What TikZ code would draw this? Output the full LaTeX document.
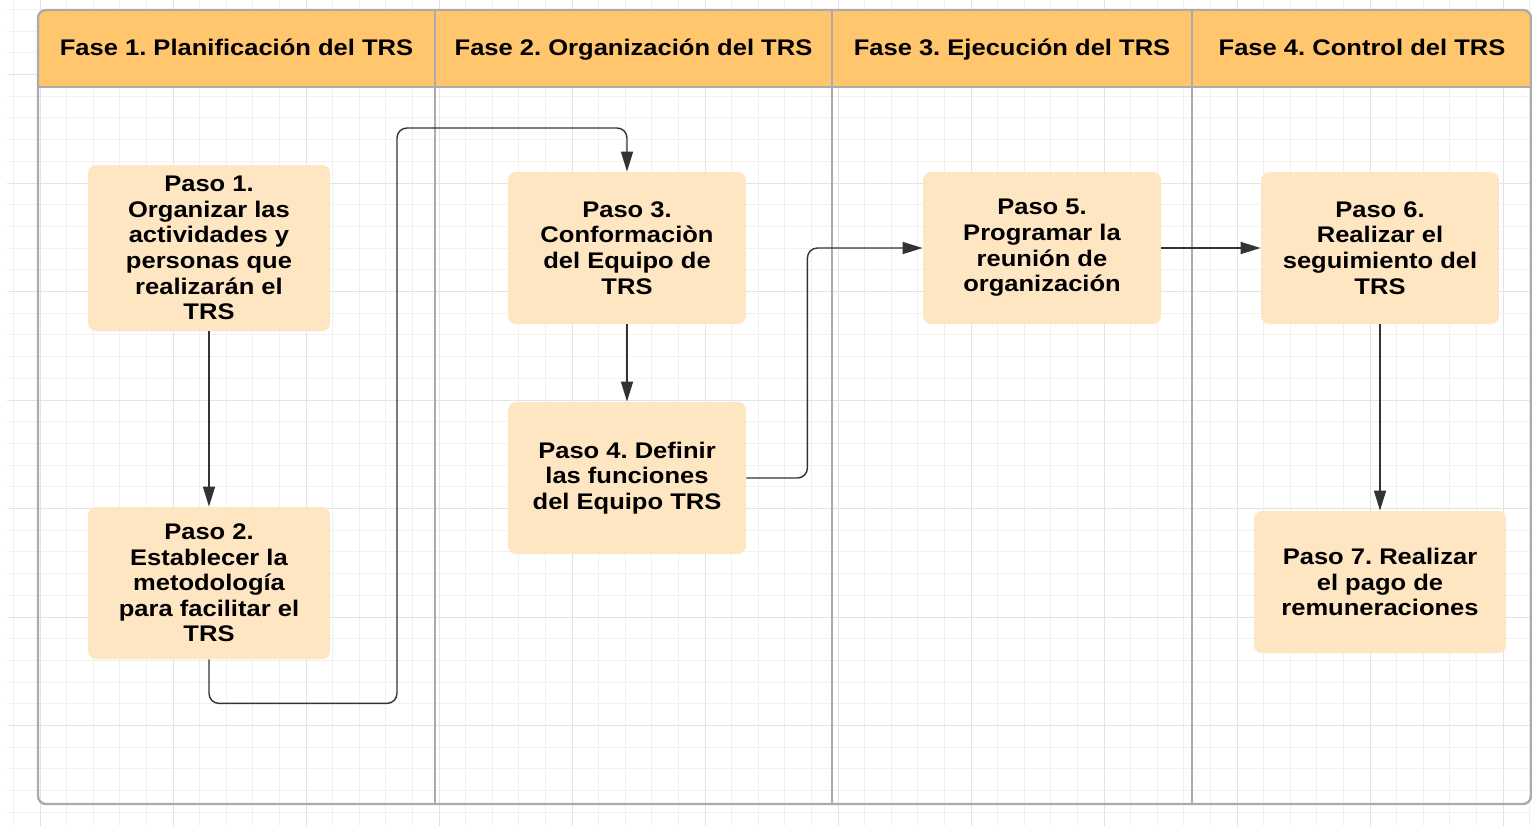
\documentclass[tikz,border=0pt]{standalone}
\usepackage{fontspec}
\setmainfont{Liberation Sans}[FakeStretch=1.13]
\usepackage{tikz}
\usetikzlibrary{arrows.meta}
\frenchspacing
\definecolor{fasecolor}{HTML}{FFC66E}
\definecolor{pasocolor}{HTML}{FFE6C3}
\definecolor{bordecolor}{HTML}{ABABAB}
\definecolor{flechacolor}{HTML}{333333}
\definecolor{gridmenor}{HTML}{F1F1F1}
\definecolor{gridmayor}{HTML}{E3E3E3}

\begin{document}
\begin{tikzpicture}[x=0.5pt,y=-0.5pt,
  menor/.style={draw=gridmenor,line width=0.5pt},
  mayor/.style={draw=gridmayor,line width=0.5pt},
  borde/.style={draw=bordecolor,line width=1.2pt},
  fase/.style={anchor=base,font=\fontsize{11.3}{12.8}\selectfont\bfseries},
  paso/.style={fill=pasocolor,rounded corners=4pt,inner sep=0pt,align=center,
    font=\fontsize{11.3}{12.8}\selectfont\bfseries},
  flecha/.style={draw=flechacolor,line width=0.7pt,rounded corners=5pt,
    -{Triangle[length=10pt,width=6pt]}}]
\useasboundingbox (0,0) rectangle (1532,826);
\fill[white] (0,0) rectangle (1532,826);
\foreach \i in {0,...,57} \draw[menor] ({13.4+26.6*\i},0) -- ({13.4+26.6*\i},826);
\foreach \i in {0,...,37} \draw[menor] (7,{9.4+21.7*\i}) -- (1532,{9.4+21.7*\i});
\foreach \i in {1,6,...,56} \draw[mayor] ({13.4+26.6*\i},0) -- ({13.4+26.6*\i},826);
\foreach \i in {3,8,...,33} \draw[mayor] (7,{9.4+21.7*\i}) -- (1532,{9.4+21.7*\i});

\begin{scope}
\clip[rounded corners=4pt] (38,10) rectangle (1531,804);
\fill[fasecolor] (38,10) rectangle (1531,87);
\end{scope}
\draw[borde,rounded corners=4pt] (38,10) rectangle (1531,804);
\draw[borde] (38,87) -- (1531,87);
\draw[borde] (435,10) -- (435,804);
\draw[borde] (832,10) -- (832,804);
\draw[borde] (1192,10) -- (1192,804);

\node[fase] (f1) at (236.5,55) {Fase 1. Planificación del TRS};
\node[fase] (f2) at (633.5,55) {Fase 2. Organización del TRS};
\node[fase] (f3) at (1012,55) {Fase 3. Ejecución del TRS};
\node[fase] (f4) at (1362,55) {Fase 4. Control del TRS};

\node[paso,minimum width=121pt,minimum height=83pt] (1) at (209,248) {Paso 1.\\Organizar las\\actividades y\\personas que\\realizarán el\\TRS};
\node[paso,minimum width=121pt,minimum height=76pt] (2) at (209,583) {Paso 2.\\Establecer la\\metodología\\para facilitar el\\TRS};
\node[paso,minimum width=119pt,minimum height=76pt] (3) at (627,248) {Paso 3.\\Conformaciòn\\del Equipo de\\TRS};
\node[paso,minimum width=119pt,minimum height=76pt] (4) at (627,478) {Paso 4. Definir\\las funciones\\del Equipo TRS};
\node[paso,minimum width=119pt,minimum height=76pt] (5) at (1042,248) {Paso 5.\\Programar la\\reunión de\\organización};
\node[paso,minimum width=119pt,minimum height=76pt] (6) at (1380,248) {Paso 6.\\Realizar el\\seguimiento del\\TRS};
\node[paso,minimum width=126pt,minimum height=71pt] (7) at (1380,582) {Paso 7. Realizar\\el pago de\\remuneraciones};

\coordinate (c1) at (397,128);
\draw[flecha] (1) -- (2);
\draw[flecha] (2.south) -- ++(0,44) -| (c1) -| (3.north);
\draw[flecha] (3) -- (4);
\draw[flecha] (4.east) -- ++(61,0) |- (5.west);
\draw[flecha] (5) -- (6);
\draw[flecha] (6) -- (7);
\end{tikzpicture}
\end{document}
